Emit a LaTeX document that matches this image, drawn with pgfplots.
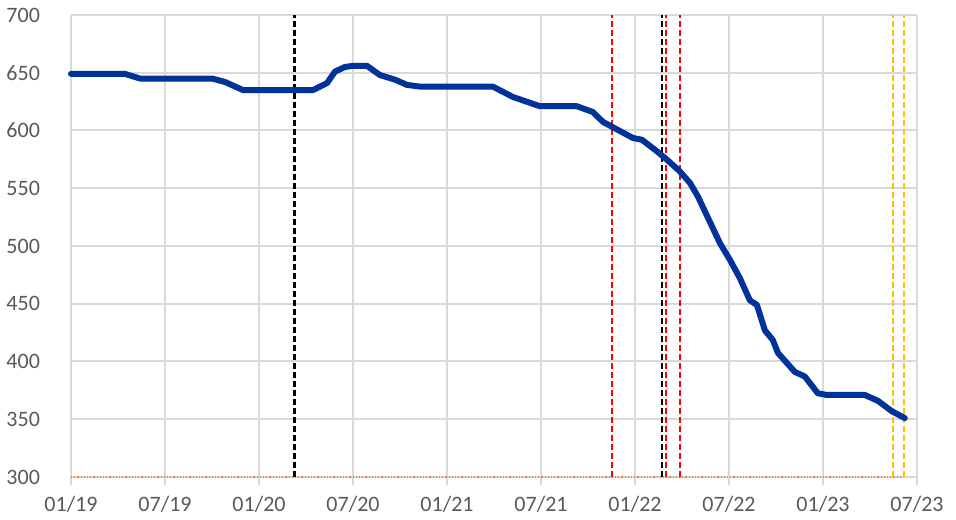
\documentclass[border=0pt]{standalone}
\usepackage{fontspec}
\setmainfont{Carlito}
\usepackage{pgfplots}
\pgfplotsset{compat=1.18}
\definecolor{lineblue}{HTML}{003399}
\definecolor{gridgray}{HTML}{D9D9D9}
\definecolor{labelgray}{HTML}{595959}
\definecolor{xlorange}{HTML}{ED7D31}
\definecolor{gold}{HTML}{FFC000}

\begin{document}
\begin{tikzpicture}
\useasboundingbox (-35.5pt,-21pt) rectangle (442.5pt,238.5pt);
\begin{axis}[
    scale only axis,
    width=423pt,
    height=231pt,
    xmin=0, xmax=54,
    ymin=300, ymax=700,
    xtick={0,6,...,54},
    xticklabels={01/19,07/19,01/20,07/20,01/21,07/21,01/22,07/22,01/23,07/23},
    ytick={300,350,...,700},
    grid=major,
    major grid style={gridgray, line width=1pt},
    axis lines=left,
    axis line style={draw=none},
    tick align=outside,
    major tick length=4pt,
    xtick style={gridgray, line width=1pt},
    ytick style={draw=none},
    tick label style={font=\fontsize{11}{13}\selectfont, text=labelgray},
    /pgf/number format/assume math mode=true,
    yticklabel style={xshift=-8pt},
    xticklabel style={yshift=-2pt},
    clip=false,
]
% bottom series
\addplot[xlorange, line width=0.6pt, densely dotted] coordinates {(0,300) (53,300)};
% event markers
\addplot[black, line width=1.5pt, dash pattern=on 3pt off 1.5pt] coordinates {(14.28,300) (14.28,700)};
\addplot[red, line width=1.1pt, dash pattern=on 3pt off 1.5pt] coordinates {(34.52,300) (34.52,700)};
\addplot[black, line width=1.1pt, dash pattern=on 3pt off 1.5pt] coordinates {(37.72,300) (37.72,700)};
\addplot[red, line width=1.1pt, dash pattern=on 3pt off 1.5pt] coordinates {(37.97,300) (37.97,700)};
\addplot[red, line width=1.3pt, dash pattern=on 3pt off 1.5pt] coordinates {(38.88,300) (38.88,700)};
\addplot[gold, line width=0.9pt, dash pattern=on 3pt off 1.5pt] coordinates {(52.46,300) (52.46,700)};
\addplot[gold, line width=0.9pt, dash pattern=on 3pt off 1.5pt] coordinates {(53.16,300) (53.16,700)};
% main series
\addplot[lineblue, line width=3pt, line join=round, line cap=round] coordinates {
(0,649) (3.45,649) (4.40,645) (9.0,645) (9.83,642) (10.98,635) (15.44,635)
(16.34,641) (16.85,651) (17.49,655) (18.0,656) (18.89,656) (19.72,648)
(20.68,644) (21.44,639.5) (22.27,638) (26.93,638) (28.21,629) (29.29,624)
(29.93,621) (32.29,621) (33.31,616) (33.95,607.5) (35.87,593.5) (36.44,592)
(37.40,582) (38.1,574) (38.87,564.5) (39.51,554.5) (40.01,543) (41.42,502.5)
(42.06,488) (42.70,472) (43.33,453) (43.78,449) (44.29,427) (44.80,418.5)
(45.12,407.5) (46.20,391) (46.84,387) (47.67,372.5) (48.25,371) (50.67,371)
(51.5,366) (52.39,357) (53.22,351)
};
\end{axis}
\end{tikzpicture}
\end{document}
